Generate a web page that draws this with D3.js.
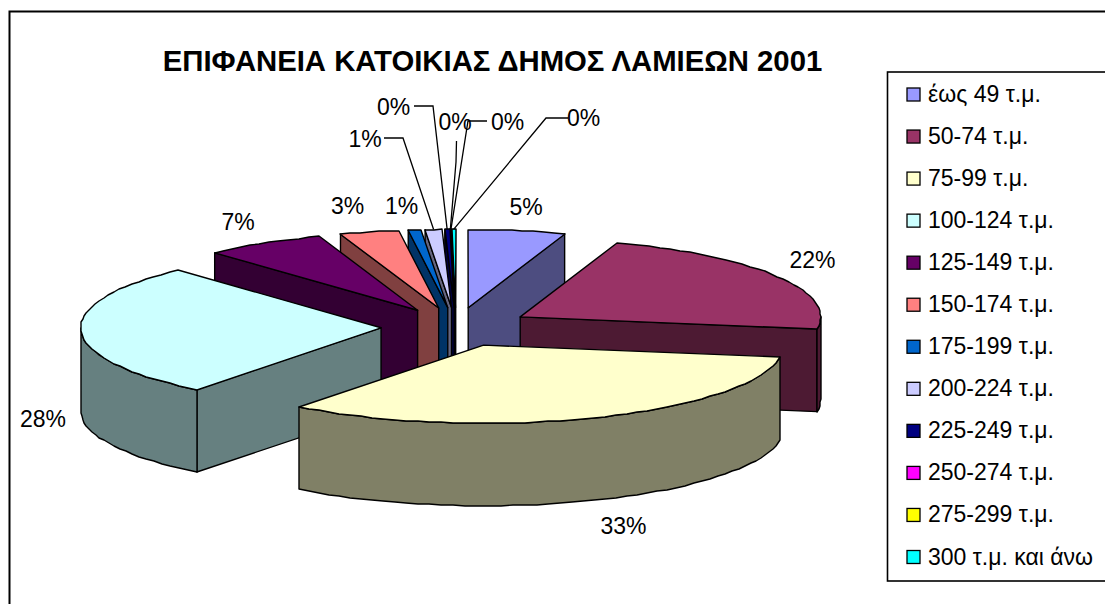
<!DOCTYPE html>
<html><head><meta charset="utf-8">
<script src="https://cdn.jsdelivr.net/npm/d3@7/dist/d3.min.js"></script>
<style>html,body{margin:0;padding:0;background:#fff;overflow:hidden}svg{display:block}text{font-family:"Liberation Sans",Arial,sans-serif;fill:#000}</style>
</head><body><svg id="c" width="1105" height="604"></svg>
<script>
const titleText = "ΕΠΙΦΑΝΕΙΑ ΚΑΤΟΙΚΙΑΣ ΔΗΜΟΣ ΛΑΜΙΕΩΝ 2001";
const categories = ["έως 49 τ.μ.","50-74 τ.μ.","75-99 τ.μ.","100-124 τ.μ.","125-149 τ.μ.","150-174 τ.μ.","175-199 τ.μ.","200-224 τ.μ.","225-249 τ.μ.","250-274 τ.μ.","275-299 τ.μ.","300 τ.μ. και άνω"];
const values = [5.2,22.3,33.0,27.7,6.5,3.2,0.7,0.9,0.25,0.02,0.03,0.2];
const topColors = ["#9999ff","#993366","#ffffcc","#ccffff","#660066","#ff8080","#0066cc","#ccccff","#000080","#ff00ff","#ffff00","#00ffff"];
const labelCenters = [[526,207],[812.5,260],[623.5,526],[43,419],[238,222],[347.5,206],[401.5,206],[365,139],[393.5,107],[455,122],[507.5,122],[583.5,118]];
const leaderPaths = [null,null,null,null,null,null,null,[[384,138],[403,138]],[[414,106],[433,106]],[[456.5,141],[456,162]],[[487,121],[468,121]],[[568,118],[546,118]]];

const cx=456, cy=327, R=300.5, squash=0.26, explode=75, depth=82.5;
const svg=d3.select("#c");
svg.append("rect").attr("x",9.5).attr("y",11.5).attr("width",1200).attr("height",800).attr("fill","#fff").attr("stroke","#000").attr("stroke-width",2);
svg.append("text").attr("x",492.5).attr("y",71).attr("text-anchor","middle").attr("font-weight","bold").attr("font-size",29.3).text(titleText);

const arcs=d3.pie().sort(null).value(d=>d).startAngle(0).endAngle(2*Math.PI)(values);
const px=(c,a,r)=>c+r*Math.sin(a);
const py=(c,a,r)=>c-r*squash*Math.cos(a);
const shade=c=>{const q=d3.rgb(c);return d3.rgb(q.r/2,q.g/2,q.b/2).formatHex();};
function arcPts(ox,oy,a0,a1,dy){const n=Math.max(2,Math.ceil((a1-a0)/0.04));return d3.range(n+1).map(i=>{const a=a0+(a1-a0)*i/n;return [Math.round(px(ox,a,R)),Math.round(py(oy,a,R)+dy)];});}
const line=d3.line();
const slices=arcs.map((d,i)=>{const mid=(d.startAngle+d.endAngle)/2;return {...d,i,mid,ox:px(cx,mid,explode),oy:py(cy,mid,explode)};});
const order=slices.slice().sort((a,b)=>d3.descending(Math.cos(a.mid),Math.cos(b.mid)));
const g=svg.append("g").attr("stroke","#000").attr("stroke-width",1.4).attr("stroke-linejoin","round");
order.forEach(s=>{
  const {ox,oy,startAngle:a0,endAngle:a1,i}=s; const side=shade(topColors[i]);
  const wall=(a)=>{const p=[px(ox,a,R),py(oy,a,R)];g.append("path").attr("fill",side).attr("d",line([[ox,oy],p,[p[0],p[1]+depth],[ox,oy+depth]])+"Z");};
  if(Math.sin(a0)<0) wall(a0);
  if(Math.sin(a1)>0) wall(a1);
  const w0=Math.max(a0,Math.PI/2), w1=Math.min(a1,3*Math.PI/2);
  if(w1>w0){g.append("path").attr("fill",side).attr("d",line(arcPts(ox,oy,w0,w1,0).concat(arcPts(ox,oy,w0,w1,depth).reverse()))+"Z");}
  g.append("path").attr("fill",topColors[i]).attr("d",line([[ox,oy]].concat(arcPts(ox,oy,a0,a1,0)))+"Z");
});
const fmt=d=>Math.round(d)+"%";
slices.forEach((s,i)=>{
  const c=labelCenters[i], e=leaderPaths[i];
  if(e){const end=[px(s.ox,s.mid,R),py(s.oy,s.mid,R)];svg.append("path").attr("fill","none").attr("stroke","#000").attr("stroke-width",1.3).attr("d",line(e.concat([end])));}
  svg.append("text").attr("x",c[0]).attr("y",c[1]+8).attr("text-anchor","middle").attr("font-size",23).text(fmt(values[i]));
});
// legend
svg.append("rect").attr("x",887.5).attr("y",72).attr("width",400).attr("height",509).attr("fill","#fff").attr("stroke","#000").attr("stroke-width",1.6);
const rowY=d3.scalePoint().domain(categories).range([94.5,557]);
categories.forEach((c,i)=>{
  const y=rowY(c);
  svg.append("rect").attr("x",907).attr("y",y-6.5).attr("width",13).attr("height",13).attr("fill",topColors[i]).attr("stroke","#000").attr("stroke-width",1.3);
  svg.append("text").attr("x",928).attr("y",y+7.5).attr("font-size",23).text(c);
});
</script></body></html>
